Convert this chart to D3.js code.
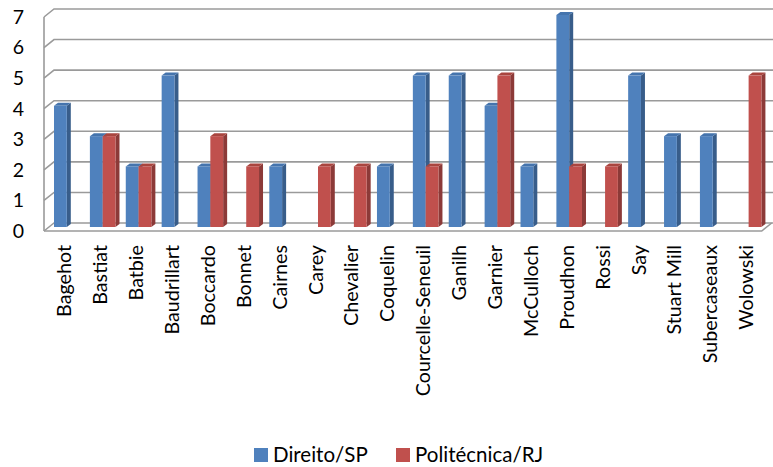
<!DOCTYPE html>
<html>
<head>
<meta charset="utf-8">
<script src="https://cdn.jsdelivr.net/npm/d3@7"></script>
<style>
    body { margin: 0; background: #fff; }
    text { font-family: Lato, "Open Sans", sans-serif; fill: #000; }
</style>
</head>
<body>
<svg id="chart"></svg>
<script>
var categories = ["Bagehot", "Bastiat", "Batbie", "Baudrillart", "Boccardo", "Bonnet", "Cairnes", "Carey",
    "Chevalier", "Coquelin", "Courcelle-Seneuil", "Ganilh", "Garnier", "McCulloch", "Proudhon", "Rossi",
    "Say", "Stuart Mill", "Subercaseaux", "Wolowski"];
var series = ["Direito/SP", "Politécnica/RJ"];
var direito = [4, 3, 2, 5, 2, 0, 2, 0, 0, 2, 5, 5, 4, 2, 7, 0, 5, 3, 3, 0];
var politecnica = [0, 3, 2, 0, 3, 2, 0, 2, 2, 0, 2, 0, 5, 0, 2, 2, 0, 0, 0, 5];
var yTicks = [0, 1, 2, 3, 4, 5, 6, 7];

var width = 773,
    height = 467;

var colors = {
    "Direito/SP": {front: "#4f81bd", side: "#385d8a", top: "#4574ad"},
    "Politécnica/RJ": {front: "#c0504d", side: "#8c3a38", top: "#a9453f"}
};

// depth offset of the back wall and of the bar tops
var depth = {dx: 10, dy: -8},
    barDepth = {dx: 4, dy: -3};

var x = d3.scaleBand().domain(categories).range([44, 761.7]);
var xs = d3.scaleBand().domain(series).range([10, 35.6]);
var yFront = d3.scaleLinear().domain([0, 7]).range([231, 17]);
var yBar = d3.scaleLinear().domain([0, 7]).range([227, 15]);

var svg = d3.select("#chart")
    .attr("width", width)
    .attr("height", height);

var grid = svg.append("g").attr("class", "grid")
    .attr("fill", "none")
    .attr("stroke", "#9a9a9a")
    .attr("stroke-width", 1.6);

// back wall gridlines with slant on the side wall
yTicks.forEach(function (v) {
    var yf = yFront(v);
    grid.append("path")
        .attr("d", "M" + x.range()[0] + "," + yf +
            "L" + (x.range()[0] + depth.dx) + "," + (yf + depth.dy) +
            "L" + width + "," + (yf + depth.dy));
});
// side wall front edge
grid.append("line")
    .attr("x1", x.range()[0]).attr("x2", x.range()[0])
    .attr("y1", yFront(0)).attr("y2", yFront(7));
// floor front edge and right slant
grid.append("path")
    .attr("d", "M" + x.range()[0] + "," + yFront(0) +
        "L" + x.range()[1] + "," + yFront(0) +
        "L" + (x.range()[1] + depth.dx) + "," + (yFront(0) + depth.dy));

// y labels
svg.append("g").selectAll("text")
    .data(yTicks).enter()
    .append("text")
    .attr("x", 24)
    .attr("y", function (d) { return yFront(d); })
    .attr("dy", "0.35em")
    .attr("text-anchor", "end")
    .style("font-size", "19.5px")
    .text(function (d) { return d; });

// bars
var bars = [];
categories.forEach(function (c, i) {
    bars.push({cat: c, s: series[0], v: direito[i]});
    bars.push({cat: c, s: series[1], v: politecnica[i]});
});
bars = bars.filter(function (d) { return d.v > 0; });

var barG = svg.append("g").attr("class", "bars")
    .selectAll("g")
    .data(bars).enter()
    .append("g");

function geom(d) {
    var x0 = x(d.cat) + xs(d.s),
        x1 = x0 + xs.bandwidth(),
        yt = yBar(d.v),
        yb = yBar(0);
    return {x0: x0, x1: x1, yt: yt, yb: yb};
}

barG.append("path")
    .attr("fill", function (d) { return colors[d.s].side; })
    .attr("d", function (d) {
        var g = geom(d);
        return "M" + g.x1 + "," + g.yb + "L" + g.x1 + "," + g.yt +
            "L" + (g.x1 + barDepth.dx) + "," + (g.yt + barDepth.dy) +
            "L" + (g.x1 + barDepth.dx) + "," + (g.yb + barDepth.dy) + "Z";
    });
barG.append("path")
    .attr("fill", function (d) { return colors[d.s].top; })
    .attr("d", function (d) {
        var g = geom(d);
        return "M" + g.x0 + "," + g.yt + "L" + (g.x0 + barDepth.dx) + "," + (g.yt + barDepth.dy) +
            "L" + (g.x1 + barDepth.dx) + "," + (g.yt + barDepth.dy) + "L" + g.x1 + "," + g.yt + "Z";
    });
barG.append("rect")
    .attr("fill", function (d) { return colors[d.s].front; })
    .attr("x", function (d) { return geom(d).x0; })
    .attr("y", function (d) { return geom(d).yt; })
    .attr("width", xs.bandwidth())
    .attr("height", function (d) { var g = geom(d); return g.yb - g.yt; });

// category labels, rotated
svg.append("g").selectAll("text")
    .data(categories).enter()
    .append("text")
    .attr("transform", function (d) {
        return "translate(" + (x(d) + x.bandwidth() / 2 + 2.5) + ",245) rotate(-90)";
    })
    .attr("dy", "0.35em")
    .attr("text-anchor", "end")
    .style("font-size", "19.7px")
    .text(function (d) { return d; });

// legend
var legend = svg.append("g").attr("class", "legend");
var legendX = [254, 396];
series.forEach(function (s, i) {
    legend.append("rect")
        .attr("x", legendX[i]).attr("y", 448)
        .attr("width", 14).attr("height", 14)
        .attr("fill", colors[s].front);
    legend.append("text")
        .attr("x", legendX[i] + 19).attr("y", 462)
        .style("font-size", "20.5px")
        .text(s);
});
</script>
</body>
</html>
